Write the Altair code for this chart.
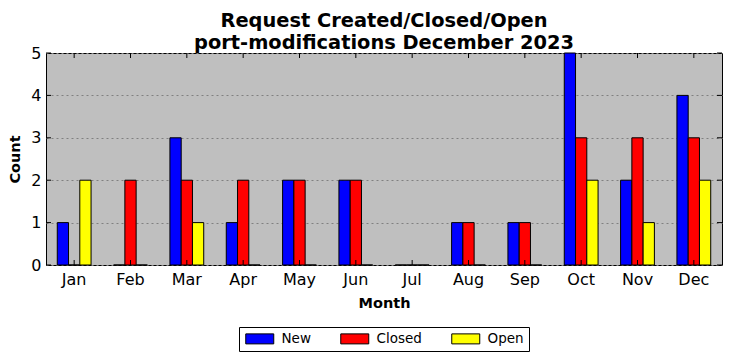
import altair as alt
import pandas as pd

months = ["Jan", "Feb", "Mar", "Apr", "May", "Jun", "Jul", "Aug", "Sep", "Oct", "Nov", "Dec"]
series = ["New", "Closed", "Open"]
new_counts = [1, 0, 3, 1, 2, 2, 0, 1, 1, 5, 2, 4]
closed_counts = [0, 2, 2, 2, 2, 2, 0, 1, 1, 3, 3, 3]
open_counts = [2, 0, 1, 0, 0, 0, 0, 0, 0, 2, 1, 2]
y_ticks = [0, 1, 2, 3, 4, 5]
colors = ["#0000ff", "#ff0000", "#ffff00"]

rows = []
for i, m in enumerate(months):
    rows.append({"Month": m, "Status": "New", "Count": new_counts[i]})
    rows.append({"Month": m, "Status": "Closed", "Count": closed_counts[i]})
    rows.append({"Month": m, "Status": "Open", "Count": open_counts[i]})
df = pd.DataFrame(rows)

W, H = 676, 212
FONT = "DejaVu Sans"

xscale = alt.Scale(paddingInner=0, paddingOuter=0)

bars = alt.Chart(df).mark_bar(stroke="black", strokeWidth=1).encode(
    x=alt.X("Month:N", sort=months, scale=xscale,
            axis=alt.Axis(title="Month", labelAngle=0, labelFontSize=16, labelFont=FONT,
                          labelColor="black", labelPadding=6, ticks=False, domain=False,
                          titleFont=FONT, titleFontSize=14.5, titleFontWeight="bold",
                          titleColor="black", titlePadding=9, grid=False)),
    xOffset=alt.XOffset("Status:N", sort=series, scale=alt.Scale(paddingInner=0, paddingOuter=1)),
    y=alt.Y("Count:Q", scale=alt.Scale(domain=[0, 5], nice=False),
            axis=alt.Axis(title="Count", values=y_ticks, format="d", labelFontSize=16,
                          labelFont=FONT, labelColor="black", labelPadding=5, ticks=False,
                          domain=False, titleFont=FONT, titleFontSize=14.5,
                          titleFontWeight="bold", titleColor="black", titlePadding=8,
                          grid=True, gridColor="#808080", gridDash=[2, 3], gridWidth=1)),
    color=alt.Color("Status:N", sort=series,
                    scale=alt.Scale(domain=series, range=colors),
                    legend=alt.Legend(title=None, orient="none", direction="horizontal",
                                      legendX=193, legendY=274,
                                      symbolType="M-1,-1L4.6,-1L4.6,1L-1,1Z",
                                      symbolSize=100, symbolStrokeColor="black",
                                      symbolStrokeWidth=1, symbolOpacity=1,
                                      labelFont=FONT, labelFontSize=13.5, labelColor="black",
                                      labelOffset=24, columnPadding=27, padding=5,
                                      strokeColor="black", fillColor="white",
                                      cornerRadius=0)),
)

tick_df = pd.DataFrame({"v": y_ticks})
left_ticks = alt.Chart(tick_df).mark_rule(color="black", strokeWidth=1).encode(
    y=alt.Y("v:Q"), x=alt.value(0), x2=alt.value(5))
right_ticks = alt.Chart(tick_df).mark_rule(color="black", strokeWidth=1).encode(
    y=alt.Y("v:Q"), x=alt.value(W - 5), x2=alt.value(W))

month_df = pd.DataFrame({"Month": months})
bottom_ticks = alt.Chart(month_df).mark_rule(color="black", strokeWidth=1).encode(
    x=alt.X("Month:N", sort=months), y=alt.value(H), y2=alt.value(H - 5))
top_ticks = alt.Chart(month_df).mark_rule(color="black", strokeWidth=1).encode(
    x=alt.X("Month:N", sort=months), y=alt.value(0), y2=alt.value(5))

chart = alt.layer(bars, left_ticks, right_ticks, bottom_ticks, top_ticks).properties(
    width=W, height=H,
    title=alt.TitleParams(text=["Request Created/Closed/Open",
                                "port-modifications December 2023"],
                          font=FONT, fontSize=19.4, fontWeight="bold", color="black",
                          anchor="middle", lineHeight=22, offset=6, dy=14),
    autosize=alt.AutoSizeParams(type="none"),
    padding={"left": 38, "top": 45, "right": 2, "bottom": 88},
).configure_view(fill="#bfbfbf", stroke="black", strokeWidth=1)

chart.save("out.html", embed_options={"renderer": "svg", "actions": False})
